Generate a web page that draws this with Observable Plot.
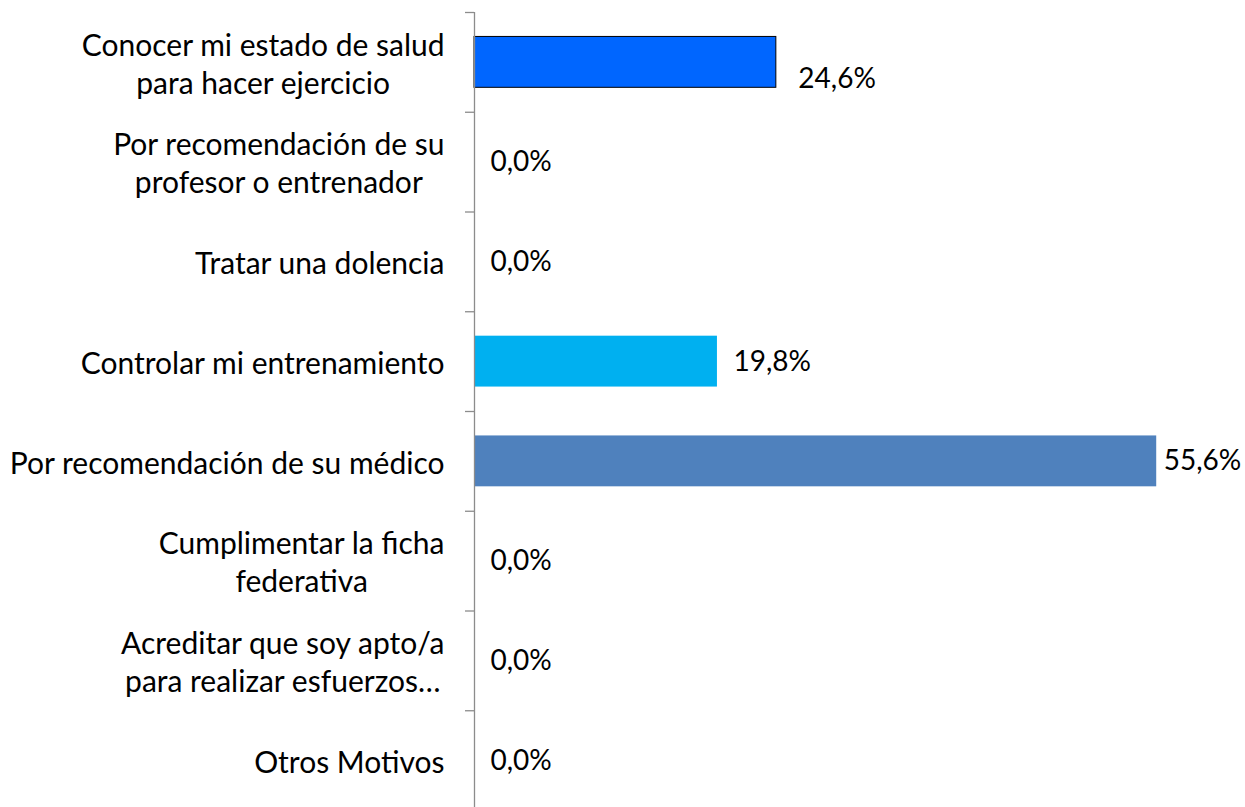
<!DOCTYPE html>
<html>
<head>
<meta charset="utf-8">
<script src="https://cdn.jsdelivr.net/npm/d3@7"></script>
<script src="https://cdn.jsdelivr.net/npm/@observablehq/plot@0.6"></script>
<style>
  html, body { margin: 0; padding: 0; background: #fff; overflow: hidden; }
  #chart svg { display: block; }
</style>
</head>
<body>
<div id="chart"></div>
<script>
// ---- data ----
const categories = [
  "Conocer mi estado de salud\npara hacer ejercicio",
  "Por recomendación de su\nprofesor o entrenador",
  "Tratar una dolencia",
  "Controlar mi entrenamiento",
  "Por recomendación de su médico",
  "Cumplimentar la ficha\nfederativa",
  "Acreditar que soy apto/a\npara realizar esfuerzos…",
  "Otros Motivos"
];
const values = [24.6, 0.0, 0.0, 19.8, 55.6, 0.0, 0.0, 0.0];
const barColors = ["#0066FF", "#4F81BD", "#4F81BD", "#00B0F0", "#4F81BD", "#4F81BD", "#4F81BD", "#4F81BD"];

const data = categories.map((c, i) => ({cat: c, value: values[i], color: barColors[i], idx: i}));
const fmt = v => v.toFixed(1).replace(".", ",") + "%";

const W = 1245, H = 810, mt = 12, mb = 0, ml = 474, mr = 0;
const fontSize = 30;
const valueFontSize = 28;
const step = (H - mt - mb) / categories.length;
const pxPerUnit = 12.27;
const xMax = (W - ml - mr) / pxPerUnit;
const tickLen = 9 / pxPerUnit;

const chart = Plot.plot({
  width: W, height: H,
  marginTop: mt, marginBottom: mb, marginLeft: ml, marginRight: mr,
  style: {fontFamily: "Lato, sans-serif", fontSize: fontSize + "px", color: "#000", background: "#fff", overflow: "visible"},
  x: {domain: [0, xMax], axis: null},
  y: {domain: categories, paddingInner: 0.49, paddingOuter: 0.245, round: false, axis: null},
  color: {type: "identity"},
  marks: [
    Plot.barX(data, {x: "value", y: "cat", fill: "color", filter: d => d.idx !== 0}),
    Plot.barX(data, {x: "value", y: "cat", fill: "color", stroke: "#000", strokeWidth: 1, filter: d => d.idx === 0}),
    Plot.ruleX([0], {stroke: "#8c8c8c", strokeWidth: 1.3}),
    Plot.ruleY(categories, {y: d => d, x1: -tickLen, x2: 0, dy: -step / 2, stroke: "#8c8c8c", strokeWidth: 1.3}),
    Plot.axisY({tickSize: 0, tickPadding: 30, label: null, fontSize: fontSize, lineHeight: 38 / fontSize, textAnchor: "end", fill: "#000"}),
    Plot.text(data, {x: "value", y: "cat", text: d => fmt(d.value), textAnchor: "start", dx: 16, fill: "#000", fontSize: valueFontSize, filter: d => d.idx !== 0 && d.idx !== 4}),
    Plot.text(data, {x: "value", y: "cat", text: d => fmt(d.value), textAnchor: "start", dx: 22, dy: 17, fill: "#000", fontSize: valueFontSize, filter: d => d.idx === 0}),
    Plot.text(data, {x: "value", y: "cat", text: d => fmt(d.value), textAnchor: "start", dx: 7, fill: "#000", fontSize: valueFontSize, filter: d => d.idx === 4})
  ]
});
document.getElementById("chart").appendChild(chart);

// Center multi-line category labels on each other, with the block right-aligned (Excel style)
chart.querySelectorAll("text").forEach(t => {
  const spans = t.querySelectorAll("tspan");
  if (spans.length < 2) return;
  let w = 0;
  spans.forEach(s => { w = Math.max(w, s.getComputedTextLength()); });
  t.setAttribute("text-anchor", "middle");
  t.style.textAnchor = "middle";
  const tr = t.getAttribute("transform") || "";
  t.setAttribute("transform", tr + ` translate(${-w / 2},0)`);
});
</script>
</body>
</html>
